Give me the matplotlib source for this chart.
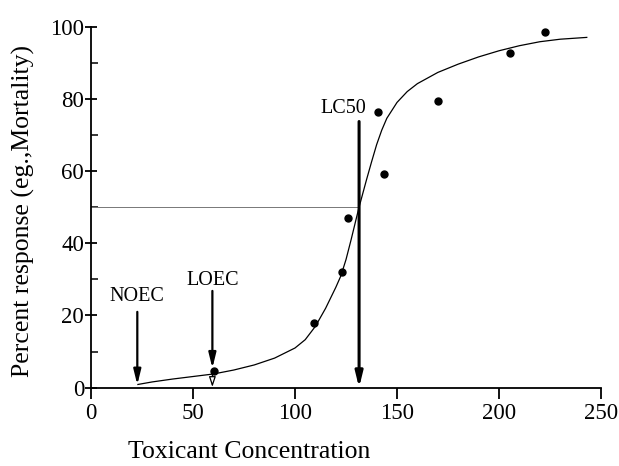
import numpy as np
import matplotlib.pyplot as plt
from matplotlib.ticker import MultipleLocator

plt.rcParams['font.family'] = ['Liberation Serif', 'DejaVu Serif']

# observed responses
conc = [60.1, 109.5, 122.9, 126.0, 140.9, 143.4, 170.2, 205.2, 222.4]
response = [4.6, 18.0, 32.1, 46.9, 76.4, 59.3, 79.5, 92.8, 98.6]

# fitted concentration-response curve
fit_x = [23, 30, 40, 50, 60, 70, 80, 90, 100, 105, 110, 115, 120, 122.5, 125,
         127.5, 130, 131.4, 135, 137.5, 140, 142.5, 145, 150, 155, 160, 170,
         180, 190, 200, 210, 220, 230, 243]
fit_y = [0.9, 1.6, 2.4, 3.1, 3.8, 4.9, 6.3, 8.2, 11.0, 13.3, 17.0, 22.0, 27.8,
         31.0, 35.5, 41.0, 46.8, 50.0, 57.5, 62.5, 67.3, 71.3, 74.6, 79.0,
         82.0, 84.2, 87.3, 89.6, 91.6, 93.3, 94.7, 95.8, 96.5, 97.0]

# endpoint concentrations
noec = 22.7
loec = 59.5
lc50 = 131.4

fig = plt.figure(figsize=(6.19, 4.66), dpi=100)
ax = fig.add_axes([0.147, 0.168, 0.824, 0.775])

ax.plot(fit_x, fit_y, color='black', lw=0.9)
ax.plot(conc, response, 'o', color='black', ms=5)

# 50 % reference line
ax.plot([0, lc50], [50, 50], color='#777777', lw=0.7)

arrow = dict(arrowstyle='-|>,head_length=0.9,head_width=0.22', color='black', lw=1.6,
             shrinkA=0, shrinkB=0)
ax.annotate('', xy=(noec, 0.8), xytext=(noec, 21), arrowprops=arrow)
ax.text(noec, 25.2, 'NOEC', ha='center', va='center', fontsize=14.5)

ax.annotate('', xy=(loec, 5.4), xytext=(loec, 26.8), arrowprops=arrow)
ax.annotate('', xy=(loec, 0.2), xytext=(loec, 3.8),
            arrowprops=dict(arrowstyle='-|>,head_length=0.6,head_width=0.2',
                            fc='white', ec='black', lw=0.9, shrinkA=0, shrinkB=0))
ax.text(loec, 29.6, 'LOEC', ha='center', va='center', fontsize=14.5)

ax.annotate('', xy=(lc50, 0), xytext=(lc50, 73.7),
            arrowprops=dict(arrowstyle='-|>,head_length=0.9,head_width=0.22',
                            color='black', lw=2.2, shrinkA=0, shrinkB=0))
ax.text(lc50 + 3.5, 77.4, 'LC50', ha='right', va='center', fontsize=14.5)

ax.set_xlim(0, 250)
ax.set_ylim(0, 100)
ax.spines['top'].set_visible(False)
ax.spines['right'].set_visible(False)
ax.spines['left'].set_linewidth(1.3)
ax.spines['bottom'].set_linewidth(1.3)

ax.xaxis.set_major_locator(MultipleLocator(50))
ax.yaxis.set_major_locator(MultipleLocator(20))
ax.yaxis.set_minor_locator(MultipleLocator(10))
ax.tick_params(axis='x', direction='out', length=8, width=1.3, labelsize=16.5, pad=3)
ax.tick_params(axis='y', which='major', direction='inout', length=8, width=1.3,
               labelsize=16.5, pad=1)
ax.tick_params(axis='y', which='minor', direction='in', length=5, width=1.1)

fig.text(249 / 619, 1 - 452 / 466, 'Toxicant Concentration', ha='center', va='center',
         fontsize=18.5)
fig.text(23 / 619, 1 - 211 / 466, 'Percent response (eg.,Mortality)', ha='center',
         va='center', rotation=90, fontsize=18.5)

fig.savefig('out.png', dpi=100)
